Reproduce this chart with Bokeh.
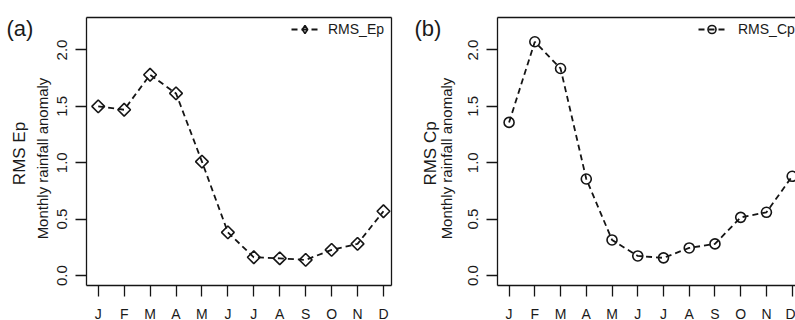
import math
from bokeh.plotting import figure
from bokeh.layouts import row
from bokeh.models import (Range1d, FixedTicker, Label, LinearAxis, Legend,
                          LegendItem)
from bokeh.embed import file_html
from bokeh.resources import INLINE

# ---- data ----
month_pos = [1, 2, 3, 4, 5, 6, 7, 8, 9, 10, 11, 12]
month_labels = ["J", "F", "M", "A", "M", "J", "J", "A", "S", "O", "N", "D"]
rms_ep = [1.50, 1.47, 1.78, 1.615, 1.01, 0.383, 0.162, 0.153, 0.139, 0.228, 0.281, 0.57]
rms_cp = [1.358, 2.073, 1.836, 0.856, 0.316, 0.174, 0.157, 0.245, 0.281, 0.516, 0.561, 0.88]
y_ticks = [0.0, 0.5, 1.0, 1.5, 2.0]
y_tick_labels = ["0.0", "0.5", "1.0", "1.5", "2.0"]
y_lim = (-0.088, 2.288)

FONT = "Liberation Sans"
INK = "#151515"
TXT = "#1a1a1a"
H = 320


def style_axis(ax, ticks, overrides, tick_size, standoff):
    ax.axis_line_color = INK
    ax.axis_line_width = 1.3
    ax.minor_tick_line_color = None
    if ticks:
        ax.ticker = FixedTicker(ticks=ticks)
        ax.major_label_overrides = overrides
        ax.major_tick_line_color = INK
        ax.major_tick_line_width = 1.3
        ax.major_tick_out = 11
        ax.major_tick_in = 0
        ax.major_label_text_font = FONT
        ax.major_label_text_font_size = tick_size
        ax.major_label_text_color = TXT
        ax.major_label_standoff = standoff
    else:
        ax.ticker = FixedTicker(ticks=[])
        ax.major_tick_line_color = None
        ax.major_label_text_color = None


def panel(width, box_px, x_lim, values, marker, msize, mangle, legend_marker,
          legend_name, legend_px, legend_gap, letter, letter_x, main_lab,
          main_x, sub_lab, sub_x):
    # box_px: (left, right, top, bottom) of the plotting box, canvas pixels
    bl, br, bt, bb = box_px
    ppx = (br - bl) / (x_lim[1] - x_lim[0])
    ppy = (bb - bt) / (y_lim[1] - y_lim[0])
    x_range = Range1d(x_lim[0] - bl / ppx, x_lim[1] + (width - br) / ppx)
    y_range = Range1d(y_lim[0] - (H - bb) / ppy, y_lim[1] + bt / ppy)

    p = figure(width=width, height=H, output_backend="svg",
               toolbar_location=None, title=None,
               x_range=x_range, y_range=y_range,
               min_border=0, min_border_left=0, min_border_right=0,
               min_border_top=0, min_border_bottom=0)
    p.grid.visible = False
    p.outline_line_color = None
    p.background_fill_color = "white"
    p.border_fill_color = "white"

    xb = p.xaxis[0]
    yl = p.yaxis[0]
    xb.fixed_location = y_lim[0]
    xb.bounds = x_lim
    yl.fixed_location = x_lim[0]
    yl.bounds = y_lim
    style_axis(xb, month_pos, {m: l for m, l in zip(month_pos, month_labels)},
               "14px", 9)
    style_axis(yl, y_ticks, {t: l for t, l in zip(y_ticks, y_tick_labels)},
               "15px", 8)
    yl.major_label_orientation = "vertical"

    xt = LinearAxis(fixed_location=y_lim[1], bounds=x_lim)
    style_axis(xt, None, None, None, None)
    p.add_layout(xt, "above")
    yr = LinearAxis(fixed_location=x_lim[1], bounds=y_lim)
    style_axis(yr, None, None, None, None)
    p.add_layout(yr, "right")

    r_line = p.line(month_pos, values, line_color=INK, line_width=1.8,
                    line_dash="6 4")
    r_pts = p.scatter(month_pos, values, marker=marker, size=msize,
                      angle=mangle, fill_alpha=0, line_color=INK,
                      line_width=1.6)
    if legend_marker is None:
        key = r_pts
    else:
        # Bokeh draws legend keys unrotated, so the key symbol comes from a
        # zero-size twin of the point series (invisible in the plot area)
        key = p.scatter(month_pos, values, marker=legend_marker, size=0,
                        fill_alpha=0, line_color=INK, line_width=1.6)

    lx, ltop = legend_px
    legend = Legend(items=[LegendItem(label=legend_name,
                                      renderers=[r_line, key])],
                    location=(lx, H - ltop - 20),
                    border_line_color=None, background_fill_alpha=0,
                    padding=0, margin=0, spacing=0,
                    glyph_width=27, glyph_height=20, label_height=20,
                    label_standoff=legend_gap,
                    label_text_font=FONT, label_text_font_size="14px",
                    label_text_color=TXT)
    p.add_layout(legend)

    p.add_layout(Label(x=letter_x, y=H - 28, x_units="screen", y_units="screen",
                       text=letter, text_font=FONT, text_font_size="22px",
                       text_color=TXT, text_baseline="alphabetic",
                       text_align="left"))
    p.add_layout(Label(x=main_x, y=H - 153, x_units="screen", y_units="screen",
                       text=main_lab, text_font=FONT, text_font_size="17px",
                       text_color=TXT, text_baseline="middle",
                       text_align="center", angle=math.pi / 2))
    p.add_layout(Label(x=sub_x, y=H - 158, x_units="screen", y_units="screen",
                       text=sub_lab, text_font=FONT, text_font_size="15px",
                       text_color=TXT, text_baseline="middle",
                       text_align="center", angle=math.pi / 2))
    return p


pa = panel(400, (86, 391, 17, 285), (0.548, 12.31), rms_ep, "square", 9,
           math.pi / 4, "diamond", "RMS_Ep", (291, 19), 10, "(a)", 6,
           "RMS Ep", 19, "Monthly rainfall anomaly", 42)
pb = panel(395, (97, 403, 17, 285), (0.55, 12.44), rms_cp, "circle", 10, 0.0,
           None, "RMS_Cp", (298, 19), 13, "(b)", 14, "RMS Cp", 30,
           "Monthly rainfall anomaly", 46)

layout = row(pa, pb)
open("out.html", "w").write(file_html(layout, INLINE))
